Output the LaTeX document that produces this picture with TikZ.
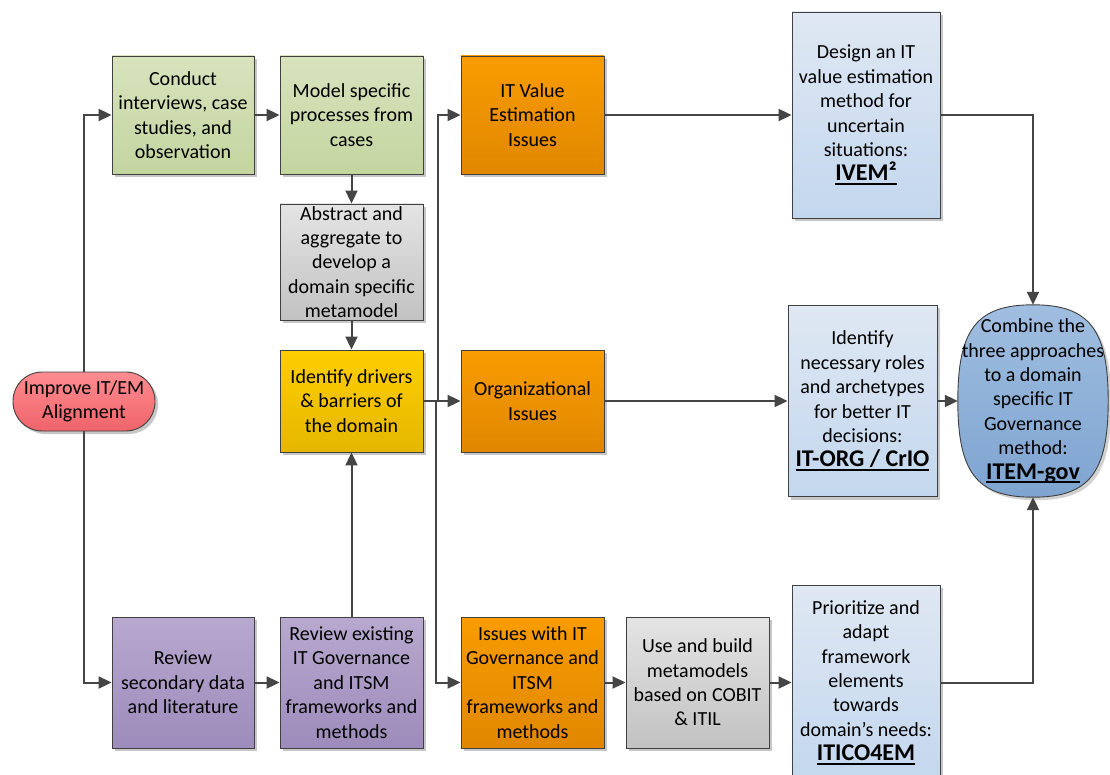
\documentclass[tikz,border=0pt]{standalone}
\usepackage{fontspec}
\setmainfont{Carlito}
\usetikzlibrary{arrows.meta,shadows,backgrounds}

\definecolor{lineclr}{HTML}{454545}
\definecolor{boxline}{HTML}{404040}
\definecolor{grnT}{HTML}{D8E3BE}
\definecolor{grnB}{HTML}{C4D59F}
\definecolor{gryT}{HTML}{E4E4E4}
\definecolor{gryB}{HTML}{C2C2C2}
\definecolor{ylwT}{HTML}{FFCE00}
\definecolor{ylwB}{HTML}{E5B700}
\definecolor{orgT}{HTML}{F99C00}
\definecolor{orgB}{HTML}{E08700}
\definecolor{prpT}{HTML}{B8A9CF}
\definecolor{prpB}{HTML}{9D8BBB}
\definecolor{lbT}{HTML}{DFE8F3}
\definecolor{lbB}{HTML}{C3D7EE}
\definecolor{blT}{HTML}{A0BEE0}
\definecolor{blB}{HTML}{7EA4D0}
\definecolor{redT}{HTML}{FF8C90}
\definecolor{redB}{HTML}{EE646A}

\newcommand\diagfont{\fontsize{20}{24.4}\selectfont}
% larger bold method name with a heavy underline just below the baseline
\newcommand\keyname[1]{\leavevmode
  \setbox0\hbox{\fontsize{24}{24.4}\selectfont\bfseries #1}%
  \rlap{\raisebox{-4pt}{\rule{\wd0}{2pt}}}\box0}

\tikzset{
  box/.style={draw=boxline, line width=0.9pt, align=center, inner sep=0pt,
    font=\diagfont,
    general shadow={shadow xshift=3pt, shadow yshift=-3pt, fill=black!22}},
  greenbox/.style={box, top color=grnT, bottom color=grnB},
  graybox/.style={box, top color=gryT, bottom color=gryB},
  yellowbox/.style={box, top color=ylwT, bottom color=ylwB},
  orangebox/.style={box, top color=orgT, bottom color=orgB},
  purplebox/.style={box, top color=prpT, bottom color=prpB},
  resultbox/.style={box, top color=lbT, bottom color=lbB},
  conn/.style={draw=lineclr, line width=2pt, -{Triangle[length=13pt,width=12pt]}},
}

\begin{document}
\begin{tikzpicture}[x=1pt,y=-1pt]
\useasboundingbox (0,0) rectangle (1110,775);

% start
\node[box, top color=redT, bottom color=redB, rounded corners=29pt,
      minimum width=142pt, minimum height=59pt] (imp) at (84,401.5)
      {Improve IT/EM\\Alignment};

% empirical branch
\node[greenbox, minimum width=142pt, minimum height=118pt] (g1) at (183,115)
  {Conduct\\interviews, case\\studies, and\\observation};
\node[greenbox, minimum width=143pt, minimum height=118pt] (g2) at (351.5,115)
  {Model specific\\processes from\\cases};
\node[graybox, minimum width=143pt, minimum height=116pt] (ab) at (351.5,262)
  {Abstract and\\aggregate to\\develop a\\domain specific\\metamodel};
\node[yellowbox, minimum width=143pt, minimum height=102pt] (yl) at (351.5,401)
  {Identify drivers\\\& barriers of\\the domain};

% literature branch
\node[purplebox, minimum width=142pt, minimum height=131pt] (p1) at (183,682.5)
  {Review\\secondary data\\and literature};
\node[purplebox, minimum width=143pt, minimum height=131pt] (p2) at (351.5,682.5)
  {Review existing\\IT Governance\\and ITSM\\frameworks and\\methods};

% issues
\node[orangebox, minimum width=143pt, minimum height=118pt] (o1) at (532.5,115)
  {IT Value\\Estimation\\Issues};
\node[orangebox, minimum width=143pt, minimum height=102pt] (o2) at (532.5,401)
  {Organizational\\Issues};
\node[orangebox, minimum width=143pt, minimum height=131pt] (o3) at (532.5,682.5)
  {Issues with IT\\Governance and\\ITSM\\frameworks and\\methods};
\node[graybox, minimum width=143pt, minimum height=131pt] (gb) at (697.5,682.5)
  {Use and build\\metamodels\\based on COBIT\\\& ITIL};

% results
\node[resultbox, minimum width=148pt, minimum height=206pt] (b1) at (866,115)
  {Design an IT\\value estimation\\method for\\uncertain\\situations:\\\keyname{IVEM²}};
\node[resultbox, minimum width=149pt, minimum height=191pt] (b2) at (862.5,401)
  {Identify\\necessary roles\\and archetypes\\for better IT\\decisions:\\\keyname{IT-ORG / CrIO}};
\node[resultbox, minimum width=148pt, minimum height=195pt] (b3) at (866,682.5)
  {Prioritize and\\adapt\\framework\\elements\\towards\\domain’s needs:\\\keyname{ITICO4EM}};

% combined method
\node[align=center, inner sep=0pt, font=\diagfont,
      minimum width=150pt, minimum height=192pt] (it) at (1033,401)
  {Combine the\\three approaches\\to a domain\\specific IT\\Governance\\method:\\\keyname{ITEM-gov}};
\begin{scope}[on background layer]
  \path[draw=boxline, line width=0.9pt, top color=blT, bottom color=blB,
        general shadow={shadow xshift=3pt, shadow yshift=-3pt, fill=black!18}]
    (it.north) .. controls +(56,0) and +(0,-72) .. (it.east)
               .. controls +(0,72) and +(56,0) .. (it.south)
               .. controls +(-56,0) and +(0,72) .. (it.west)
               .. controls +(0,-72) and +(-56,0) .. (it.north) -- cycle;
\end{scope}

% connectors
\coordinate (ja) at (438,401);
\coordinate (jb) at (435.5,401);

\draw[conn] (imp.north) |- (g1.west);
\draw[conn] (imp.south) |- (p1.west);
\draw[conn] (g1.east) -- (g2.west);
\draw[conn] (g2.south) -- (ab.north);
\draw[conn] (ab.south) -- (yl.north);
\draw[conn] (p1.east) -- (p2.west);
\draw[conn] (p2.north) -- (yl.south);
\draw[conn] (yl.east) -- (o2.west);
\draw[conn] (ja) |- (o1.west);
\draw[conn] (jb) |- (o3.west);
\draw[conn] (o1.east) -- (b1.west);
\draw[conn] (o2.east) -- (b2.west);
\draw[conn] (o3.east) -- (gb.west);
\draw[conn] (gb.east) -- (b3.west);
\draw[conn] (b2.east) -- (it.west);
\draw[conn] (b1.east) -| (it.north);
\draw[conn] (b3.east) -| (it.south);
\end{tikzpicture}
\end{document}
